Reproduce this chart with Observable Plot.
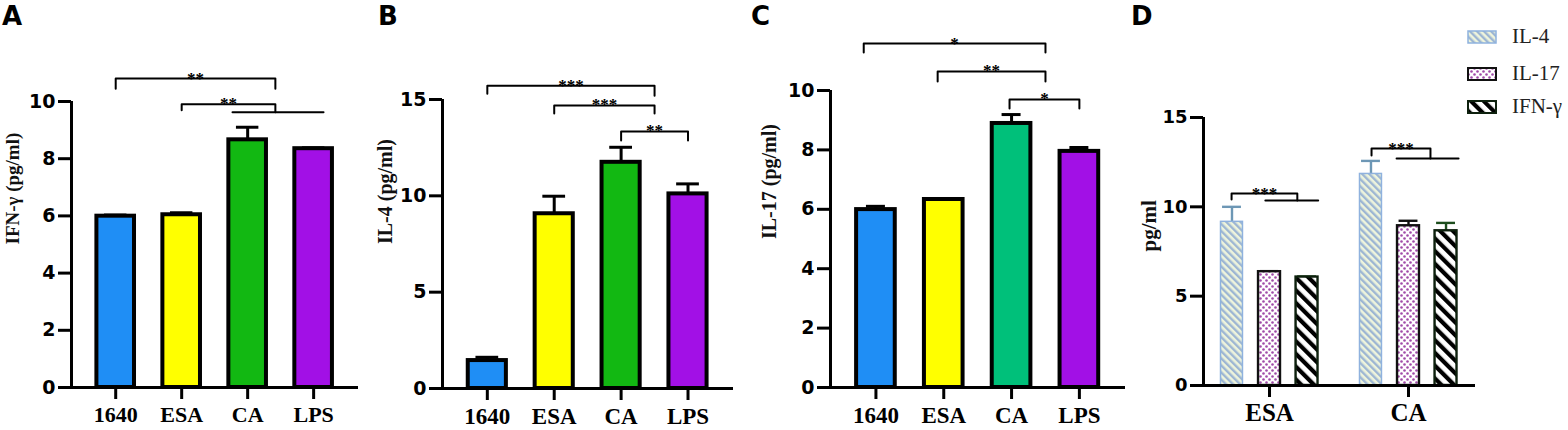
<!DOCTYPE html>
<html>
<head>
<meta charset="utf-8">
<script src="https://cdn.jsdelivr.net/npm/d3@7"></script>
<script src="https://cdn.jsdelivr.net/npm/@observablehq/plot@0.6"></script>
<style>
  body { margin: 0; background: #fff; }
  #fig { position: relative; width: 1568px; height: 430px; overflow: hidden; background: #fff; }
  .panel { position: absolute; top: 0; }
  .letter { position: absolute; top: 3px; font: bold 26px "DejaVu Sans", sans-serif; line-height: 26px; color: #000; }
  .leg { position: absolute; left: 1467px; height: 22px; display: flex; align-items: center; font: 21px "Liberation Serif", "Times New Roman", serif; color: #222; }
  .leg svg { margin-right: 15px; display: block; }
</style>
</head>
<body>
<svg width="0" height="0" style="position:absolute">
  <defs>
    <pattern id="pIL4" patternUnits="userSpaceOnUse" width="5" height="5" patternTransform="rotate(-45)">
      <rect width="5" height="5" fill="#eef4dc"/>
      <rect width="2.4" height="5" fill="#9db6d3"/>
    </pattern>
    <pattern id="pIL17" patternUnits="userSpaceOnUse" width="6" height="6">
      <rect width="6" height="6" fill="#ffffff"/>
      <circle cx="1.5" cy="1.5" r="1.3" fill="#a04aa8"/>
      <circle cx="4.5" cy="4.5" r="1.3" fill="#a04aa8"/>
    </pattern>
    <pattern id="pIFN" patternUnits="userSpaceOnUse" width="9" height="9" patternTransform="rotate(-45)">
      <rect width="9" height="9" fill="#ffffff"/>
      <rect width="4.2" height="9" fill="#000000"/>
    </pattern>
  </defs>
</svg>
<div id="fig"></div>
<script>
// ---------- data ----------
const groups = ["1640", "ESA", "CA", "LPS"];

const ifnValues = [5.99, 6.04, 8.66, 8.35];
const ifnSem    = [0.04, 0.07, 0.44, 0.03];
const ifnColors = ["#1f8ef5", "#ffff00", "#12b812", "#a210e6"];

const il4Values = [1.45, 9.07, 11.74, 10.10];
const il4Sem    = [0.17, 0.91, 0.78, 0.52];
const il4Colors = ["#1f8ef5", "#ffff00", "#12b812", "#a210e6"];

const il17Values = [5.99, 6.33, 8.89, 7.95];
const il17Sem    = [0.11, 0.03, 0.30, 0.13];
const il17Colors = ["#1f8ef5", "#ffff00", "#00c07a", "#a210e6"];

// significance brackets (x in category-index units, y in data units)
const sigA = [
  {x1: 0, x2: 2.42, y: 10.80, lo1: 10.45, lo2: 10.45, label: "**"},
  {x1: 1, x2: 2.42, y: 9.90, lo1: 9.69, lo2: 9.62, label: "**"},
  {x1: 1.77, x2: 3.15, y: 9.62, lo1: 9.62, lo2: 9.62, label: ""}
];
const sigB = [
  {x1: 0, x2: 2.5, y: 15.72, lo1: 15.30, lo2: 15.20, label: "***"},
  {x1: 1, x2: 2.5, y: 14.69, lo1: 14.27, lo2: 14.27, label: "***"},
  {x1: 2, x2: 3, y: 13.34, lo1: 12.87, lo2: 12.87, label: "**"}
];
const sigC = [
  {x1: -0.18, x2: 2.5, y: 11.58, lo1: 11.28, lo2: 11.28, label: "*"},
  {x1: 0.91, x2: 2.5, y: 10.64, lo1: 10.30, lo2: 10.30, label: "**"},
  {x1: 1.97, x2: 3.0, y: 9.70, lo1: 9.39, lo2: 9.39, label: "*"}
];

// panel D
const dGroups = ["ESA", "CA"];
const dSeries = ["IL-4", "IL-17", "IFN-γ"];
const dIL4  = [9.16, 11.84];
const dIL4Sem = [0.84, 0.73];
const dIL17 = [6.37, 8.94];
const dIL17Sem = [0.03, 0.28];
const dIFN  = [6.07, 8.66];
const dIFNSem = [0.03, 0.44];
const sigD = [
  {x1: -0.273, x2: 0.20, y: 10.74, lo1: 10.41, lo2: 10.35, label: "***"},
  {x1: -0.03, x2: 0.35, y: 10.35, lo1: 10.35, lo2: 10.35, label: ""},
  {x1: 0.734, x2: 1.158, y: 13.26, lo1: 12.87, lo2: 12.70, label: "***"},
  {x1: 0.914, x2: 1.36, y: 12.70, lo1: 12.70, lo2: 12.70, label: ""}
];

const SANS = "DejaVu Sans, sans-serif";
const SERIF = "Liberation Serif, Times New Roman, serif";

function bracketMarks(brackets, fontSize) {
  const pts = brackets.flatMap((b, k) => [
    {k, x: b.x1, y: b.lo1}, {k, x: b.x1, y: b.y}, {k, x: b.x2, y: b.y}, {k, x: b.x2, y: b.lo2}
  ]);
  return [
    Plot.line(pts, {x: "x", y: "y", z: "k", stroke: "#000", strokeWidth: 2}),
    Plot.text(brackets.filter(b => b.label), {
      x: b => (b.x1 + b.x2) / 2, y: "y", text: "label", lineAnchor: "bottom", dy: 5,
      fontSize, fontWeight: "bold", fontFamily: SERIF, fill: "#000"
    })
  ];
}

function barPanel(cfg) {
  const data = groups.map((g, i) => ({i, g, value: cfg.values[i], sem: cfg.sems[i], color: cfg.colors[i]}));
  const xd = [-0.67, 3.68];
  const hw = 0.285, cw = cfg.capHalf;
  return Plot.plot({
    width: cfg.width, height: 430,
    marginLeft: cfg.ml, marginRight: cfg.mr, marginTop: cfg.mt, marginBottom: cfg.mb,
    x: {domain: xd},
    y: {domain: cfg.yDomain},
    color: {type: "identity"},
    style: {overflow: "visible", background: "transparent", maxWidth: "none"},
    marks: [
      Plot.ruleX(data, {x: "i", y1: "value", y2: d => d.value + d.sem, stroke: "#000", strokeWidth: 3}),
      Plot.ruleY(data, {y: d => d.value + d.sem, x1: d => d.i - cw, x2: d => d.i + cw, stroke: "#000", strokeWidth: 3}),
      Plot.rect(data, {x1: d => d.i - hw, x2: d => d.i + hw, y1: 0, y2: "value", fill: "color", stroke: "#000", strokeWidth: 4}),
      ...bracketMarks(cfg.brackets, 17),
      Plot.ruleX([xd[0]], {stroke: "#000", strokeWidth: 3}),
      Plot.ruleY([0], {stroke: "#000", strokeWidth: 3}),
      Plot.axisY({ticks: cfg.yTicks, tickSize: 13, tickPadding: 3, fontSize: 19, fontWeight: "bold", fontFamily: SANS, strokeWidth: 3, label: null, fill: "#000"}),
      Plot.axisX({ticks: d3.range(groups.length), tickFormat: i => groups[i], tickSize: 12, tickPadding: 7, fontSize: cfg.xFont, fontWeight: "bold", fontFamily: SERIF, strokeWidth: 3, label: null, fill: "#000"}),
      Plot.text([cfg.yLabel], {frameAnchor: "left", rotate: -90, dx: cfg.labelDx, fontSize: cfg.labelFont, fontWeight: "bold", fontFamily: SERIF, fill: "#111"})
    ]
  });
}

function panelD(cfg) {
  const off = 0.27, hw = 0.079, cw = 0.068;
  const series = [
    {name: dSeries[0], values: dIL4, sems: dIL4Sem, fill: "url(#pIL4)", stroke: "#8fb2de", sw: 1.5, err: "#6d97b5"},
    {name: dSeries[1], values: dIL17, sems: dIL17Sem, fill: "url(#pIL17)", stroke: "#111", sw: 2.4, err: "#111"},
    {name: dSeries[2], values: dIFN, sems: dIFNSem, fill: "url(#pIFN)", stroke: "#0d200d", sw: 2.4, err: "#1d4d1d"}
  ];
  const xd = [-0.475, 1.482];
  const marks = [];
  series.forEach((s, k) => {
    const data = dGroups.map((g, gi) => ({x: gi + (k - 1) * off, value: s.values[gi], sem: s.sems[gi]}));
    marks.push(
      Plot.ruleX(data, {x: "x", y1: "value", y2: d => d.value + d.sem, stroke: s.err, strokeWidth: 2.4}),
      Plot.ruleY(data, {y: d => d.value + d.sem, x1: d => d.x - cw, x2: d => d.x + cw, stroke: s.err, strokeWidth: 2.4}),
      Plot.rect(data, {x1: d => d.x - hw, x2: d => d.x + hw, y1: 0, y2: "value", fill: s.fill, stroke: s.stroke, strokeWidth: s.sw})
    );
  });
  return Plot.plot({
    width: cfg.width, height: 430,
    marginLeft: cfg.ml, marginRight: cfg.mr, marginTop: cfg.mt, marginBottom: cfg.mb,
    x: {domain: xd},
    y: {domain: [0, 15]},
    style: {overflow: "visible", background: "transparent", maxWidth: "none"},
    marks: [
      ...marks,
      ...bracketMarks(sigD, 17),
      Plot.ruleX([xd[0]], {stroke: "#000", strokeWidth: 3}),
      Plot.ruleY([0], {stroke: "#000", strokeWidth: 3}),
      Plot.axisY({ticks: [0, 5, 10, 15], tickSize: 13, tickPadding: 3, fontSize: 18, fontWeight: "bold", fontFamily: SANS, strokeWidth: 3, label: null, fill: "#000"}),
      Plot.axisX({ticks: d3.range(dGroups.length), tickFormat: i => dGroups[i], tickSize: 12, tickPadding: 6, fontSize: 25, fontWeight: "bold", fontFamily: SERIF, strokeWidth: 3, label: null, fill: "#000"}),
      Plot.text(["pg/ml"], {frameAnchor: "left", rotate: -90, dx: -54, fontSize: 21, fontWeight: "bold", fontFamily: SERIF, fill: "#111"})
    ]
  });
}

const fig = document.getElementById("fig");
function place(svg, left) {
  const div = document.createElement("div");
  div.className = "panel";
  div.style.left = left + "px";
  div.appendChild(svg);
  fig.appendChild(div);
}

place(barPanel({values: ifnValues, sems: ifnSem, colors: ifnColors, yDomain: [0, 10], yTicks: [0, 2, 4, 6, 8, 10],
  brackets: sigA, yLabel: "IFN-γ (pg/ml)", width: 368, ml: 71, mr: 10, mt: 101, mb: 43,
  capHalf: 0.17, xFont: 22, labelDx: -59, labelFont: 19}), 0);
place(barPanel({values: il4Values, sems: il4Sem, colors: il4Colors, yDomain: [0, 15], yTicks: [0, 5, 10, 15],
  brackets: sigB, yLabel: "IL-4 (pg/ml)", width: 382, ml: 74, mr: 17, mt: 99, mb: 42,
  capHalf: 0.17, xFont: 23, labelDx: -57, labelFont: 20}), 368);
place(barPanel({values: il17Values, sems: il17Sem, colors: il17Colors, yDomain: [0, 10], yTicks: [0, 2, 4, 6, 8, 10],
  brackets: sigC, yLabel: "IL-17 (pg/ml)", width: 380, ml: 80, mr: 5, mt: 90, mb: 43,
  capHalf: 0.14, xFont: 23, labelDx: -61, labelFont: 20}), 750);
place(panelD({width: 438, ml: 73, mr: 93, mt: 117, mb: 45}), 1130);

// panel letters
[["A", 2], ["B", 378], ["C", 751], ["D", 1131]].forEach(([t, x]) => {
  const d = document.createElement("div");
  d.className = "letter"; d.style.left = x + "px"; d.textContent = t;
  fig.appendChild(d);
});

// legend for panel D
const legendStyles = [
  {fill: "url(#pIL4)", stroke: "#8fb2de", sw: 1.5},
  {fill: "url(#pIL17)", stroke: "#111", sw: 2},
  {fill: "url(#pIFN)", stroke: "#0d200d", sw: 2}
];
const legTops = [25.5, 62.5, 95.5];
dSeries.forEach((name, k) => {
  const row = document.createElement("div");
  row.className = "leg";
  row.style.top = legTops[k] + "px";
  const s = legendStyles[k];
  row.innerHTML = `<svg width="30" height="14"><rect x="1" y="1" width="28" height="12" fill="${s.fill}" stroke="${s.stroke}" stroke-width="${s.sw}"/></svg><span>${name}</span>`;
  fig.appendChild(row);
});
</script>
</body>
</html>
